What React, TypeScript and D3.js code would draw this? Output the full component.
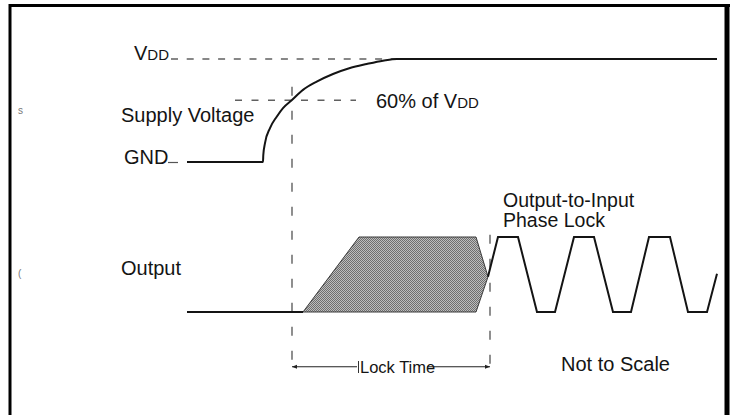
import * as d3 from 'd3';

// time axis is in arbitrary units, levels are fractions of VDD / output swing
const supplyT = [0, 76, 76.3, 78, 83, 89.7, 96, 104.7, 116, 129.7, 146, 163, 179.7, 196, 210, 530];
const supplyV = [0, 0, 0.068, 0.184, 0.33, 0.44, 0.524, 0.6, 0.7, 0.78, 0.854, 0.913, 0.951, 0.983, 1, 1];

const outputIdleT = [0, 116];
const outputIdleV = [0, 0];

const hatchT = [116, 172, 289, 301, 289];
const hatchV = [0, 1, 1, 0.47, 0];

const lockedT = [301, 311, 331, 350, 368, 387, 407, 426, 444, 462, 483, 501, 520, 530];
const lockedV = [0.47, 1, 1, 0, 0, 1, 1, 0, 0, 1, 1, 0, 0, 0.51];

const LOCK_START = 105;
const LOCK_END = 303;

const FONT = '"Liberation Sans", Arial, Helvetica, sans-serif';

export default function App() {
  const width = 737;
  const height = 415;

  const x = d3.scaleLinear().domain([0, 530]).range([187, 717]);
  const ySupply = d3.scaleLinear().domain([0, 1]).range([162, 59]);
  const yOut = d3.scaleLinear().domain([0, 1]).range([312, 237]);

  const zip = (t: number[], v: number[]) => t.map((d, i) => [d, v[i]] as [number, number]);

  const supplyLine = d3.line<[number, number]>()
    .x(d => x(d[0]))
    .y(d => ySupply(d[1]))
    .curve(d3.curveMonotoneX);

  const outLine = d3.line<[number, number]>()
    .x(d => x(d[0]))
    .y(d => yOut(d[1]));

  const arrowY = yOut(-0.73);
  const dimBottom = yOut(-0.81);

  const dashGray = '#606060';
  const ink = '#141414';

  return (
    <div style={{ position: 'fixed', left: 0, top: 0 }}>
      <svg width={width} height={height} style={{ display: 'block', background: '#fff' }} fontFamily={FONT}>
        <defs>
          <pattern id="dots" width="2" height="2" patternUnits="userSpaceOnUse">
            <rect width="2" height="2" fill="#bdbdbd" />
            <rect width="1" height="1" fill="#6e6e6e" />
            <rect x="1" y="1" width="1" height="1" fill="#6e6e6e" />
          </pattern>
          <marker id="arr" viewBox="0 0 10 10" refX="10" refY="5" markerWidth="7" markerHeight="5" orient="auto-start-reverse" markerUnits="userSpaceOnUse">
            <path d="M0,1 L10,5 L0,9 Z" fill="#222" />
          </marker>
        </defs>

        {/* frame */}
        <line x1={10} x2={10} y1={4} y2={height} stroke="#000" strokeWidth={3} />
        <line x1={9} x2={730} y1={5.5} y2={5.5} stroke="#000" strokeWidth={3} />
        <line x1={727} x2={727} y1={4} y2={height} stroke="#000" strokeWidth={5} />

        {/* reference dashes */}
        <line x1={x(-16)} x2={x(210)} y1={ySupply(1)} y2={ySupply(1)} stroke={dashGray} strokeWidth={1.4} strokeDasharray="7 8.7" />
        <line x1={x(48)} x2={x(169)} y1={ySupply(0.6)} y2={ySupply(0.6)} stroke={dashGray} strokeWidth={1.4} strokeDasharray="7 9.5" />
        <line x1={x(LOCK_START)} x2={x(LOCK_START)} y1={ySupply(0.73)} y2={dimBottom} stroke={dashGray} strokeWidth={1.4} strokeDasharray="9 15" />
        <line x1={x(LOCK_END)} x2={x(LOCK_END)} y1={yOut(1.03)} y2={dimBottom} stroke={dashGray} strokeWidth={1.4} strokeDasharray="9 15" />

        {/* label tick after GND */}
        <line x1={168} x2={178} y1={ySupply(0) + 0.5} y2={ySupply(0) + 0.5} stroke="#555" strokeWidth={1.2} />

        {/* supply voltage */}
        <path d={supplyLine(zip(supplyT, supplyV)) ?? ''} fill="none" stroke={ink} strokeWidth={2} />

        {/* output */}
        <path d={outLine(zip(hatchT, hatchV)) + 'Z'} fill="url(#dots)" stroke="#3a3a3a" strokeWidth={1} />
        <path d={outLine(zip(outputIdleT, outputIdleV)) ?? ''} fill="none" stroke={ink} strokeWidth={2} />
        <path d={outLine(zip(lockedT, lockedV)) ?? ''} fill="none" stroke={ink} strokeWidth={2} strokeLinejoin="miter" />

        {/* lock time dimension */}
        <line x1={x(LOCK_START)} x2={357} y1={arrowY} y2={arrowY} stroke="#222" strokeWidth={1} markerStart="url(#arr)" />
        <line x1={427} x2={x(LOCK_END)} y1={arrowY} y2={arrowY} stroke="#222" strokeWidth={1} markerEnd="url(#arr)" />
        <line x1={358.5} x2={358.5} y1={361} y2={373} stroke="#333" strokeWidth={1} />
        <text x={360} y={373} fontSize={16.5} fill={ink}>Lock Time</text>

        {/* labels */}
        <text x={134} y={60} fontSize={20} fill={ink}>V<tspan fontSize={15}>DD</tspan></text>
        <text x={121} y={122} fontSize={20} fill={ink}>Supply Voltage</text>
        <text x={124} y={164} fontSize={20} fill={ink}>GND</text>
        <text x={376} y={108} fontSize={20} fill={ink}>60% of V<tspan fontSize={15}>DD</tspan></text>
        <text x={121} y={275} fontSize={20} fill={ink}>Output</text>
        <text x={503} y={207} fontSize={19.5} fill={ink}>Output-to-Input</text>
        <text x={503} y={227} fontSize={19.5} fill={ink}>Phase Lock</text>
        <text x={561} y={371} fontSize={20} fill={ink}>Not to Scale</text>

        {/* cut-off fragments at the left edge */}
        <text x={18} y={114} fontSize={10} fill="#777">s</text>
        <text x={18} y={277} fontSize={10} fill="#777">(</text>
      </svg>
    </div>
  );
}
